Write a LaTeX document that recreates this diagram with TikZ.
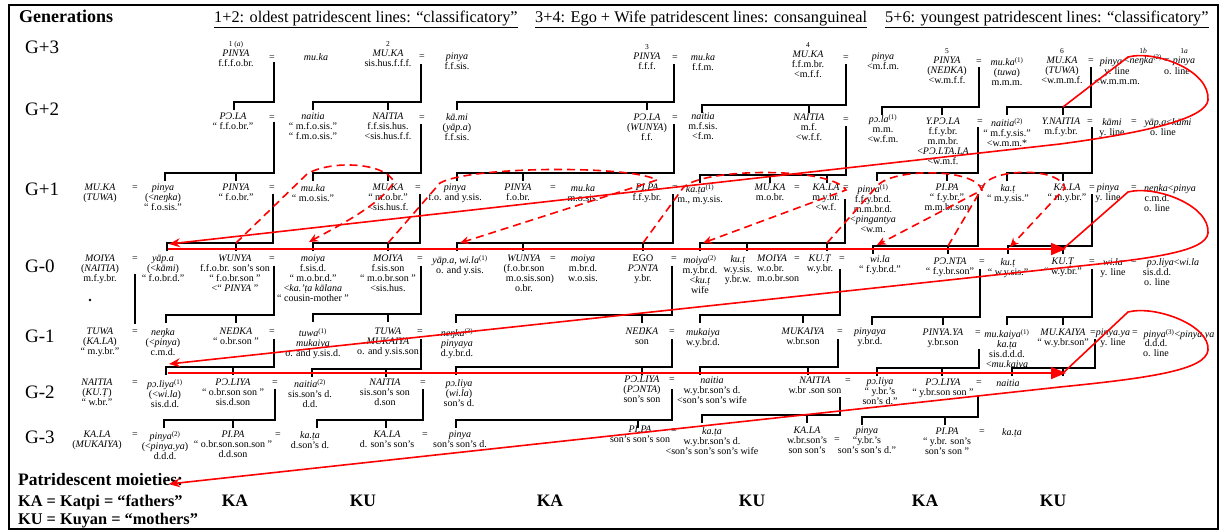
\documentclass[tikz,border=0pt]{standalone}
\usepackage{fontspec}
\setmainfont{Liberation Serif}
\usetikzlibrary{arrows.meta}
\newcommand\supn[1]{\textsuperscript{(#1)}}
\newcommand\nm[1]{\textit{#1}}
\newcommand\numl[1]{{\fontsize{7.5}{8}\selectfont #1}}
\newcommand\kt[4]{\node[t] (#1) at (#2,#3-4) {#4};}
\newcommand\eqn[3]{\node[eq] (#1) at (#2,#3) {=};}
\newcommand\fbr[5]{\draw[fam] (#1,#2) -- (#1,#3) -- (#4,#3);
  \foreach \tx in {#5} {\draw[fam] (\tx,#3) -- (\tx,#3+7);}}
\tikzset{
  t/.style={font=\fontsize{10}{10}\selectfont, align=center, inner sep=0pt, anchor=north,
            execute at begin node={\rule{0pt}{7pt}}},
  eq/.style={font=\fontsize{10}{10}\selectfont, inner sep=0pt},
  fam/.style={line width=1.4pt, line cap=rect},
  rl/.style={red, line width=1.6pt},
  rd/.style={red, line width=1.6pt, dash pattern=on 8pt off 5pt},
  hd/.style={anchor=base west, inner sep=0pt, font=\fontsize{16.3}{16.3}\selectfont},
  gl/.style={anchor=base west, inner sep=0pt, font=\fontsize{19}{19}\selectfont},
  bt/.style={anchor=base west, inner sep=0pt, font=\bfseries\fontsize{16.3}{16.3}\selectfont},
  mo/.style={anchor=base, inner sep=0pt, font=\bfseries\fontsize{17.5}{17.5}\selectfont},
}
\begin{document}
\begin{tikzpicture}[x=1pt,y=-1pt]
\useasboundingbox (0,0) rectangle (1225,531);
\draw[line width=2pt] (9,5) rectangle (1218,529);

% headers
\node[anchor=base west, inner sep=0pt, font=\bfseries\fontsize{18}{18}\selectfont] (gen) at (19,22) {Generations};
\node[hd] (h1) at (214,22) {\underline{1+2: oldest patridescent lines: “classificatory”}};
\node[hd] (h2) at (535,22) {\underline{3+4: Ego + Wife patridescent lines: consanguineal}};
\node[hd] (h3) at (885,22) {\underline{5+6: youngest patridescent lines: “classificatory”}};

% generation labels
\node[gl] (g3) at (25,53) {G+3};
\node[gl] (g2) at (25,115) {G+2};
\node[gl] (g1) at (25,195) {G+1};
\node[gl] (g0) at (25,272) {G-0};
\node[gl] (gm1) at (25,342) {G-1};
\node[gl] (gm2) at (25,398) {G-2};
\node[gl] (gm3) at (25,443) {G-3};

% bottom legend
\node[bt, font=\bfseries\fontsize{17.5}{17.5}\selectfont] (pm) at (18,485) {Patridescent moieties:};
\node[bt] (ka) at (18,506) {KA = Katpi = “fathers”};
\node[bt] (ku) at (18,524) {KU = Kuyan = “mothers”};
\node[mo] (m1) at (235,506) {KA};
\node[mo] (m2) at (363,506) {KU};
\node[mo] (m3) at (550,506) {KA};
\node[mo] (m4) at (752,506) {KU};
\node[mo] (m5) at (925,506) {KA};
\node[mo] (m6) at (1053,506) {KU};

% ---------------- G+3
\kt{a1}{236}{45}{\numl{1 (\nm{a})}\\\nm{PINYA}\\f.f.f.o.br.}
\eqn{q1}{272}{58}
\kt{a2}{316}{57}{\nm{mu.ka}}
\kt{a3}{388}{45}{\numl{2}\\\nm{MU.KA}\\sis.hus.f.f.f.}
\eqn{q2}{422}{57}
\kt{a4}{457}{57}{\nm{pinya}\\f.f.sis.}
\kt{a5}{647}{48}{\numl{3}\\\nm{PINYA}\\f.f.f.}
\eqn{q3}{675}{58}
\kt{a6}{703}{57}{\nm{mu.ka}\\f.f.m.}
\kt{a7}{808}{46}{\numl{4}\\\nm{MU.KA}\\f.f.m.br.\\<m.f.f.}
\eqn{q4}{846}{58}
\kt{a8}{883}{57}{\nm{pinya}\\<m.f.m.}
\kt{a9}{947}{52}{\numl{5}\\\nm{PINYA}\\(\nm{NEŊKA})\\<w.m.f.f.}
\eqn{q5}{979}{62}
\kt{a10}{1007}{61}{\nm{mu.ka}\supn{1}\\(\nm{tuwa})\\m.m.m.}
\kt{a11}{1062}{52}{\numl{6}\\\nm{MU.KA}\\(\nm{TUWA})\\<w.m.m.f.}
\eqn{q6}{1091}{61}
\kt{a12}{1111}{61}{\nm{pinya}}
\kt{a13}{1143}{52}{\numl{1\nm{b}}\\<\nm{neŋka}\supn{2}}
\eqn{q7}{1167}{61}
\kt{a14}{1184}{52}{\numl{1\nm{a}}\\\nm{pinya}}
\kt{a15}{1117}{71}{y. line\\<w.m.m.m.}
\kt{a17}{1177}{71}{o. line}

% ---------------- G+2
\kt{b1}{233}{117}{\nm{PƆ.LA}\\“ f.f.o.br.”}
\eqn{qb1}{272}{118}
\kt{b2}{313}{117}{\nm{naitia}\\“ m.f.o.sis.”\\“ f.m.o.sis.”}
\kt{b3}{388}{117}{\nm{NAITIA}\\f.f.sis.hus.\\<sis.hus.f.f.}
\eqn{qb2}{422}{118}
\kt{b4}{457}{117}{\nm{kā.mi}\\(\nm{yāp.a})\\f.f.sis.}
\kt{b5}{647}{118}{\nm{PƆ.LA}\\(\nm{WUNYA})\\f.f.}
\eqn{qb3}{675}{118}
\kt{b6}{703}{117}{\nm{naitia}\\m.f.sis.\\<f.m.}
\kt{b7}{809}{118}{\nm{NAITIA}\\m.f.\\<w.f.f.}
\eqn{qb4}{846}{120}
\kt{b8}{883}{118}{\nm{pɔ.la}\supn{1}\\m.m.\\<w.f.m.}
\kt{b9}{943}{122}{\nm{Y.PƆ.LA}\\f.f.y.br.\\m.m.br.\\<\nm{PƆ.LTA.LA}\\<w.m.f.}
\eqn{qb5}{980}{122}
\kt{b10}{1007}{122}{\nm{naitia}\supn{2}\\“ m.f.y.sis.”\\<w.m.m.*}
\kt{b11}{1061}{122}{\nm{Y.NAITIA}\\m.f.y.br.}
\eqn{qb6}{1090}{122}
\kt{b12}{1112}{122}{\nm{kāmi}\\y. line}
\eqn{qb7}{1134}{122}
\kt{b13}{1168}{122}{\nm{yāp.a}<\nm{kāmi}}
\kt{b14}{1163}{132}{o. line}

% ---------------- G+1
\kt{c1}{100}{188}{\nm{MU.KA}\\(\nm{TUWA})}
\eqn{qc1}{135}{188}
\kt{c2}{163}{188}{\nm{pinya}\\(<\nm{neŋka})\\“ f.o.sis.”}
\kt{c3}{236}{188}{\nm{PINYA}\\“ f.o.br.”}
\eqn{qc2}{272}{188}
\kt{c4}{313}{188}{\nm{mu.ka}\\“ m.o.sis.”}
\kt{c5}{388}{188}{\nm{MU.KA}\\“ m.o.br.”\\<sis.hus.f.}
\eqn{qc3}{418}{188}
\kt{c6}{455}{188}{\nm{pinya}\\f.o. and y.sis.}
\kt{c7}{518}{188}{\nm{PINYA}\\f.o.br.}
\eqn{qc4}{553}{188}
\kt{c8}{583}{188}{\nm{mu.ka}\\m.o.sis.}
\kt{c9}{647}{188}{\nm{PI.PA}\\f.f.y.br.}
\eqn{qc5}{675}{188}
\kt{c10}{700}{188}{\nm{ka.ṭa}\supn{1}\\m., m.y.sis.}
\kt{c11}{770}{188}{\nm{MU.KA}\\m.o.br.}
\eqn{qc6}{797}{188}
\kt{c12}{826}{188}{\nm{KA.LA}\\m.y.br.\\<w.f.}
\eqn{qc7}{846}{188}
\kt{c13}{873}{188}{\nm{pinya}\supn{1}\\f.f.y.br.d.\\m.m.br.d.\\<\nm{pingantya}\\<w.m.}
\kt{c14}{947}{188}{\nm{PI.PA}\\“ f.y.br.”\\m.m.br.son}
\eqn{qc8}{982}{188}
\kt{c15}{1008}{188}{\nm{ka.ṭ}\\“ m.y.sis.”}
\kt{c16}{1067}{188}{\nm{KA.LA}\\“ m.y.br.”}
\eqn{qc9}{1092}{188}
\kt{c17}{1108}{188}{\nm{pinya}\\y. line}
\eqn{qc10}{1134}{188}
\kt{c18}{1170}{188}{\nm{neŋka}<\nm{pinya}}
\kt{c19}{1157}{198}{c.m.d.\\o. line}

% ---------------- G-0
\kt{d1}{100}{259}{\nm{MOIYA}\\(\nm{NAITIA})\\m.f.y.br.}
\eqn{qd1}{135}{259}
\kt{d2}{163}{259}{\nm{yāp.a}\\(<\nm{kāmi})\\“ f.o.br.d.”}
\kt{d3}{235}{259}{\nm{WUNYA}\\f.f.o.br. son's son\\“ f.o.br.son ”\\<“ \nm{PINYA} ”}
\eqn{qd2}{272}{259}
\node[circle, fill, inner sep=0.9pt] (dot) at (90,300) {};
\kt{d4}{313}{259}{\nm{moiya}\\f.sis.d.\\“ m.o.br.d.”\\<\nm{ka.'ṭa kālana}\\“ cousin-mother ”}
\kt{d5}{388}{259}{\nm{MOIYA}\\f.sis.son\\“ m.o.br.son ”\\<sis.hus.}
\eqn{qd3}{420}{259}
\kt{d6}{460}{259}{\nm{yāp.a, wi.la}\supn{1}\\o. and y.sis.}
\kt{d7}{524}{259}{\nm{WUNYA}\\(f.o.br.son\\\hspace{1.2em}m.o.sis.son)\\o.br.}
\eqn{qd4}{553}{259}
\kt{d8}{583}{259}{\nm{moiya}\\m.br.d.\\w.o.sis.}
\kt{d9}{643}{259}{EGO\\\nm{PƆNTA}\\y.br.}
\eqn{qd5}{674}{259}
\kt{d10}{700}{259}{\nm{moiya}\supn{2}\\m.y.br.d.\\<\nm{ku.ṭ}\\wife}
\kt{d11}{738}{259}{\nm{ku.ṭ}\\w.y.sis.\\y.br.w.}
\node[t, anchor=north west, align=left] (d12) at (757,255) {\nm{MOIYA}\\w.o.br.\\m.o.br.son};
\eqn{qd6}{797}{259}
\kt{d13}{820}{259}{\nm{KU.Ṭ}\\w.y.br.}
\eqn{qd7}{842}{259}
\kt{d14}{880}{259}{\nm{wi.la}\\“ f.y.br.d.”}
\kt{d15}{950}{262}{\nm{PƆ.NTA}\\“ f.y.br.son”}
\eqn{qd8}{982}{262}
\kt{d16}{1008}{262}{\nm{ku.ṭ}\\“ w.y.sis.”}
\kt{d17}{1063}{262}{\nm{KU.Ṭ}\\“ w.y.br.”}
\eqn{qd9}{1092}{262}
\kt{d18}{1113}{262}{\nm{wi.la}\\y. line}
\eqn{qd10}{1134}{262}
\kt{d19}{1173}{262}{\nm{pɔ.liya}<\nm{wi.la}}
\kt{d20}{1157}{272}{sis.d.d.\\o. line}

% ---------------- G-1
\kt{e1}{100}{332}{\nm{TUWA}\\(\nm{KA.LA})\\“ m.y.br.”}
\eqn{qe1}{135}{332}
\kt{e2}{163}{332}{\nm{neŋka}\\(<\nm{pinya})\\c.m.d.}
\kt{e3}{236}{332}{\nm{NEŊKA}\\“ o.br.son ”}
\eqn{qe2}{272}{332}
\kt{e4}{313}{332}{\nm{tuwa}\supn{1}\\\nm{mukaiya}\\o. and y.sis.d.}
\kt{e5}{388}{332}{\nm{TUWA}\\\nm{MUKAIYA}\\o. and y.sis.son}
\eqn{qe3}{420}{332}
\kt{e6}{457}{332}{\nm{neŋka}\supn{3}\\\nm{pinyaya}\\d.y.br.d.}
\kt{e7}{642}{332}{\nm{NEŊKA}\\son}
\eqn{qe4}{672}{332}
\kt{e8}{703}{332}{\nm{mukaiya}\\w.y.br.d.}
\kt{e9}{803}{332}{\nm{MUKAIYA}\\w.br.son}
\eqn{qe5}{840}{332}
\kt{e10}{870}{332}{\nm{pinyaya}\\y.br.d.}
\kt{e11}{943}{333}{\nm{PINYA.YA}\\y.br.son}
\eqn{qe6}{978}{333}
\kt{e12}{1007}{333}{\nm{mu.kaiya}\supn{1}\\\nm{ka.ṭa}\\sis.d.d.d.\\<\nm{mu.kaiya}}
\kt{e13}{1063}{333}{\nm{MU.KAIYA}\\“ w.y.br.son”}
\eqn{qe7}{1093}{333}
\kt{e14}{1113}{333}{\nm{pinya.ya}\\y. line}
\eqn{qe8}{1135}{333}
\kt{e15}{1179}{333}{\nm{pinya}\supn{3}<\nm{pinya.ya}}
\kt{e16}{1156}{343}{d.d.d.\\o. line}

% ---------------- G-2
\kt{f1}{97}{383}{\nm{NAITIA}\\(\nm{KU.Ṭ})\\“ w.br.”}
\eqn{qf1}{135}{383}
\kt{f2}{165}{383}{\nm{pɔ.liya}\supn{1}\\(<\nm{wi.la})\\sis.d.d.}
\kt{f3}{233}{383}{\nm{PƆ.LIYA}\\“ o.br.son son ”\\sis.d.son}
\eqn{qf2}{275}{383}
\kt{f4}{310}{383}{\nm{naitia}\supn{2}\\sis.son's d.\\d.d.}
\kt{f5}{385}{383}{\nm{NAITIA}\\sis.son's son\\d.son}
\eqn{qf3}{423}{383}
\kt{f6}{459}{383}{\nm{pɔ.liya}\\(\nm{wi.la})\\son's d.}
\kt{f7}{642}{380}{\nm{PƆ.LIYA}\\(\nm{PƆNTA})\\son's son}
\eqn{qf4}{672}{380}
\kt{f8}{712}{381}{\nm{naitia}\\w.y.br.son's d.\\<son's son's wife}
\kt{f9}{815}{381}{\nm{NAITIA}\\w.br .son son}
\eqn{qf5}{848}{381}
\kt{f10}{880}{381}{\nm{pɔ.liya}\\“ y.br.'s\\son's d.”}
\kt{f11}{943}{383}{\nm{PƆ.LIYA}\\“ y.br.son son ”}
\eqn{qf6}{979}{383}
\kt{f12}{1008}{383}{\nm{naitia}}

% ---------------- G-3
\kt{g1}{97}{435}{\nm{KA.LA}\\(\nm{MUKAIYA})}
\eqn{qg1}{135}{435}
\kt{g2}{165}{435}{\nm{pinya}\supn{2}\\(<\nm{pinya.ya})\\d.d.d.}
\kt{g3}{233}{435}{\nm{PI.PA}\\“ o.br.son.son.son ”\\d.d.son}
\eqn{qg2}{278}{435}
\kt{g4}{310}{435}{\nm{ka.ṭa}\\d.son's d.}
\kt{g5}{387}{435}{\nm{KA.LA}\\d. son's son's}
\eqn{qg3}{425}{435}
\kt{g6}{460}{435}{\nm{pinya}\\son's son's d.}
\kt{g7}{640}{430}{\nm{PI.PA}\\son's son's son}
\eqn{qg4}{674}{431}
\kt{g8}{712}{431}{\nm{ka.ṭa}\\w.y.br.son's d.\\<son's son's son's wife}
\kt{g9}{807}{431}{\nm{KA.LA}\\w.br.son's\\son son's}
\eqn{qg5}{837}{440}
\kt{g10}{867}{431}{\nm{pinya}\\“y.br.'s\\son's son's d.”}
\kt{g11}{947}{432}{\nm{PI.PA}\\“ y.br. son's\\son's son ”}
\eqn{qg6}{982}{432}
\kt{g12}{1012}{432}{\nm{ka.ṭa}}

% ---------------- family brackets
\fbr{274}{63}{102}{234}{234}
\fbr{421}{65}{102}{313}{313,388}
\fbr{674}{65}{102}{457}{457,647}
\fbr{846}{65}{105}{702}{702,809}
\fbr{979}{68}{107}{882}{882,942}
\fbr{1091}{68}{107}{1007}{1007,1063}

\fbr{274}{123}{173}{165}{165,236}
\fbr{421}{125}{173}{313}{313,388}
\fbr{674}{125}{173}{457}{457,523}
\fbr{846}{127}{175}{700}{700,770,827}
\fbr{978}{128}{173}{877}{877,947}
\fbr{1092}{128}{173}{1007}{1007,1063}

\fbr{273}{195}{243}{167}{167,236}
\fbr{420}{195}{243}{313}{313,388}
\fbr{673}{195}{243}{457}{457,523,643}
\fbr{845}{200}{243}{700}{700,747,827}
\fbr{978}{195}{246}{873}{873,948}
\fbr{1092}{195}{246}{1008}{1008,1063}

\fbr{274}{267}{315}{166}{166,236}
\fbr{421}{267}{314}{313}{313,388}
\fbr{672}{267}{315}{456}{456,642}
\fbr{840}{270}{315}{700}{700,803}
\fbr{980}{270}{317}{872}{872,943}
\fbr{1092}{270}{317}{1007}{1007,1063}
\draw[fam] (135,275) -- (135,323);

\fbr{274}{340}{367}{166}{166,233}
\fbr{421}{340}{369}{312}{312,386}
\fbr{672}{340}{367}{456}{456,642}
\fbr{838}{340}{367}{700}{700,808}
\fbr{979}{350}{368}{877}{877,942}
\fbr{1095}{340}{368}{1012}{1012,1063}

\fbr{275}{390}{420}{164}{164,233}
\fbr{423}{390}{420}{317}{317,386}
\fbr{672}{390}{420}{456}{456,638}
\fbr{840}{398}{415}{702}{702,807}
\fbr{978}{397}{417}{862}{862,945}

% ---------------- red solid loops
\draw[rl,-{Stealth[length=11pt,width=9pt]}] (1063,107) -- (1128,57)
  .. controls (1155,50) and (1210,70) .. (1208,100)
  .. controls (1206,118) and (1150,132) .. (1060,144) -- (169,244);
\draw[rl,-{Stealth[length=11pt,width=9pt]}] (1063,249) -- (1128,192)
  .. controls (1155,185) and (1210,205) .. (1208,233)
  .. controls (1206,252) and (1150,259) .. (1060,268) -- (169,364);
\draw[rl,-{Stealth[length=11pt,width=9pt]}] (1063,373) -- (1128,312)
  .. controls (1155,305) and (1210,325) .. (1208,350)
  .. controls (1206,370) and (1150,378) .. (1060,387) -- (169,484);
\draw[rl,-{Triangle[length=15pt,width=12pt]}] (168,249) -- (1066,249);
\draw[rl,-{Triangle[length=15pt,width=12pt]}] (168,373) -- (1066,373);

% ---------------- red dashed hooks
\draw[rd,-{Stealth[length=9pt,width=8pt]}] (236,243) -- (307,174)
  .. controls (330,160) and (385,162) .. (394,182)
  .. controls (380,205) and (340,225) .. (309,242);
\draw[rd,-{Stealth[length=9pt,width=8pt]}] (388,243) -- (440,183)
  .. controls (470,166) and (630,165) .. (657,180) -- (460,243);
\draw[rd,-{Stealth[length=9pt,width=8pt]}] (643,243) -- (683,188)
  .. controls (700,168) and (830,166) .. (846,190) -- (703,243);
\draw[rd,-{Stealth[length=9pt,width=8pt]}] (827,243) -- (878,185)
  .. controls (895,168) and (975,168) .. (982,190) -- (877,245);
\draw[rd,-{Stealth[length=9pt,width=8pt]}] (948,246) -- (985,183)
  .. controls (1000,168) and (1060,168) .. (1065,188) -- (1010,247);
\end{tikzpicture}
\end{document}
